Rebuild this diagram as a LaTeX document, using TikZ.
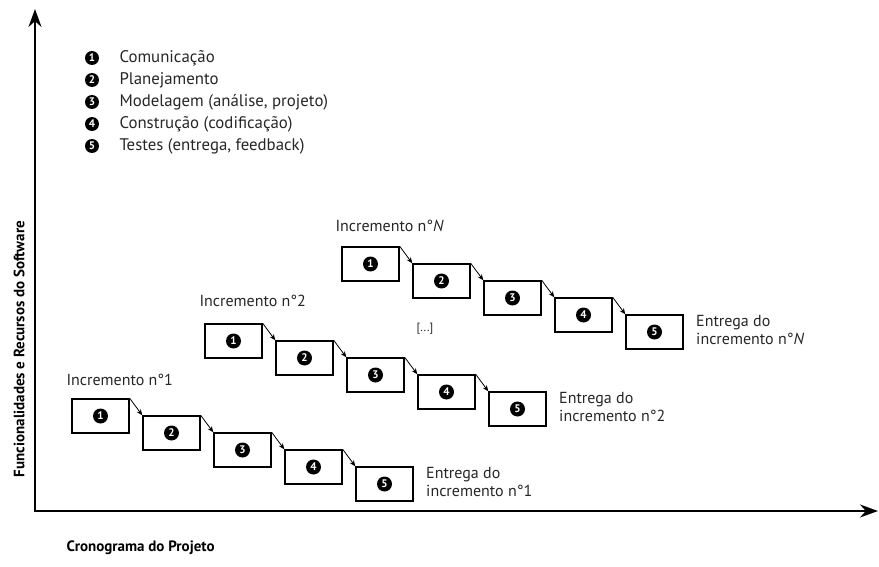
\documentclass[tikz,border=0pt]{standalone}
\usepackage{fontspec}
\setmainfont{PT Sans}
\usetikzlibrary{arrows.meta,calc}
\begin{document}
\begin{tikzpicture}[x=1pt,y=-1pt,
  axis/.style={line width=1.8pt,-{Stealth[length=18pt,width=13pt]}},
  stepbox/.style={draw,line width=1.4pt,minimum width=57pt,minimum height=34pt,inner sep=0pt},
  flow/.style={line width=0.8pt,-{Stealth[length=6pt,width=5pt]}},
  numdot/.style={circle,fill=black,text=white,inner sep=0pt,minimum size=15pt,font=\bfseries\fontsize{11}{11}\selectfont},
  legtext/.style={anchor=west,font=\fontsize{16.8}{18}\selectfont,text=black!85},
  lbl/.style={font=\fontsize{16}{18.5}\selectfont,text=black!85},
  axlabel/.style={font=\bfseries\fontsize{15}{16}\selectfont}]
\useasboundingbox (0,0) rectangle (879,567);

% axes
\coordinate (origin) at (35,511);
\coordinate (ytop) at (35,9);
\coordinate (xend) at (878,511);
\draw[axis] (origin) -- (ytop);
\draw[axis] ($(origin)+(-1,0)$) -- (xend);
\node[axlabel,rotate=90] (ylab) at (19,349) {Funcionalidades e Recursos do Software};
\node[axlabel,anchor=west] (xlab) at (63,548) {Cronograma do Projeto};

% legend
\foreach \n/\t [count=\k from 0] in {1/{Comunicação},2/{Planejamento},3/{Modelagem (análise, projeto)},4/{Construção (codificação)},5/{Testes (entrega, feedback)}}{
  \node[numdot,minimum size=14pt] (leg\n) at (92,{58+22*\k}) {\n};
  \node[legtext] (legt\n) at (116,{58+22*\k}) {\t};
}

% increments: name / top-left corner of first box
\foreach \inc/\xo/\yo in {a/72/399,b/205/324,c/342/247}{
  \foreach \j in {1,...,5}{
    \node[stepbox] (\inc\j) at ({\xo+28.5+71*(\j-1)},{\yo+17+17*(\j-1)}) {};
    \node[numdot] (\inc\j d) at (\inc\j) {\j};
  }
  \foreach \j [evaluate=\j as \k using int(\j+1)] in {1,...,4}{
    \draw[flow] (\inc\j.north east) -- (\inc\k.north west);
  }
}

% increment titles
\node[lbl,anchor=west] (ta) at (63,380) {Incremento n°1};
\node[lbl,anchor=west] (tb) at (196,301) {Incremento n°2};
\node[lbl,anchor=west] (tc) at (332,226) {Incremento n°\textit{N}};

% deliveries
\node[lbl,anchor=west,align=left] (ea) at ($(a5.east)+(9,-2)$) {Entrega do\\incremento n°1};
\node[lbl,anchor=west,align=left] (eb) at ($(b5.east)+(9,-2)$) {Entrega do\\incremento n°2};
\node[lbl,anchor=west,align=left] (ec) at ($(c5.east)+(9,-2)$) {Entrega do\\incremento n°\textit{N}};

\node[font=\fontsize{12}{12}\selectfont,text=black!85] (dots) at (425,329) {[...]};
\end{tikzpicture}
\end{document}
